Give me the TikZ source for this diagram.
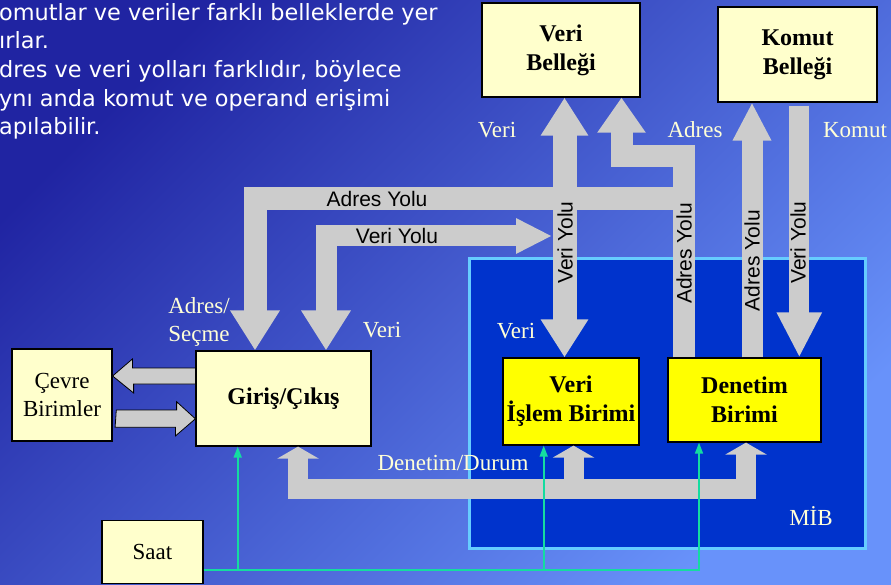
\documentclass[tikz,border=0pt]{standalone}
\usepackage{fontspec}
\setmainfont{Liberation Serif}
\setsansfont{Liberation Sans}
\newfontfamily\notefont{DejaVu Sans}
\usepackage{tikz}
\usetikzlibrary{arrows.meta}

\definecolor{bgdark}{RGB}{32,36,162}
\definecolor{bglight}{RGB}{104,146,250}
\definecolor{busgray}{RGB}{204,204,204}
\definecolor{memyellow}{RGB}{255,255,204}
\definecolor{cpuyellow}{RGB}{255,255,0}
\definecolor{cpublue}{RGB}{0,51,204}
\definecolor{cpuedge}{RGB}{102,204,255}
\definecolor{clkgreen}{RGB}{20,220,160}
\definecolor{labcream}{RGB}{255,255,215}

\begin{document}
\begin{tikzpicture}[x=1pt,y=-1pt,
  mem node/.style={rectangle,draw=black,fill=memyellow,line width=1.2pt,align=center,inner sep=0pt,
    font=\fontsize{24}{29}\selectfont\bfseries},
  dev node/.style={rectangle,draw=black,fill=memyellow,line width=1.2pt,align=center,inner sep=0pt,
    font=\fontsize{23}{28}\selectfont},
  cpu node/.style={rectangle,draw=black,fill=cpuyellow,line width=1.2pt,align=center,inner sep=0pt,
    font=\fontsize{24}{29}\selectfont\bfseries},
  bus/.style={draw=busgray,line cap=butt,line join=miter},
  side arrow/.style={fill=busgray,draw=black,line width=0.8pt,line join=miter},
  clkline/.style={draw=clkgreen,line width=1.6pt,-{Triangle[width=8pt,length=11pt]}},
  lab/.style={text=labcream,inner sep=0pt,align=center,font=\fontsize{23}{28}\selectfont},
  buslab/.style={text=black,inner sep=0pt,font=\sffamily\fontsize{21}{25}\selectfont}]

  \useasboundingbox (0,0) rectangle (891,585);
  \shade[top color=bgdark,bottom color=bglight,shading angle=45] (0,0) rectangle (891,585);

  % MIB
  \node[rectangle,draw=cpuedge,fill=cpublue,line width=3pt,minimum width=396,minimum height=290] (mib) at (667.5,403.5) {};

  % memories and units
  \node[mem node,minimum width=158,minimum height=94] (vb) at (561,50) {Veri\\Belleği};
  \node[mem node,minimum width=159,minimum height=95] (kb) at (797.5,54.5) {Komut\\Belleği};
  \node[mem node,minimum width=175,minimum height=95] (io) at (283.5,398.5) {Giriş/Çıkış};
  \node[dev node,minimum width=100,minimum height=92] (cb) at (62,395) {Çevre\\Birimler};
  \node[dev node,minimum width=101,minimum height=63] (saat) at (152.5,552) {Saat};
  \node[cpu node,minimum width=136,minimum height=87] (vib) at (571,401.5) {Veri\\İşlem Birimi};
  \node[cpu node,minimum width=153,minimum height=84] (db) at (744.5,400) {Denetim\\Birimi};

  % bus points
  \coordinate (vtop) at ([xshift=3.5]vb.south);
  \coordinate (atop) at ([xshift=-60.5]db.north);
  \coordinate (abend) at (621.5,156);
  \coordinate (abus) at (684,198.5);
  \coordinate (aio) at ([xshift=-28.5]io.north);
  \coordinate (kadr) at ([xshift=7.5]db.north);
  \coordinate (kcmd) at ([xshift=1.8]kb.south);
  \coordinate (vyol) at (552,236);
  \coordinate (vio) at ([xshift=42.5]io.north);
  \coordinate (dio) at ([xshift=14.5]io.south);
  \coordinate (dbus) at ([yshift=-42]io.south);
  \coordinate (dvib) at ([xshift=2.5]vib.south);
  \coordinate (ddb) at ([xshift=1.5]db.south);

  % buses
  \draw[bus,line width=23pt,-{Triangle[width=47pt,length=40pt]}] (abus) -| (aio);
  \draw[bus,line width=22pt,-{Triangle[width=46pt,length=35pt]}] (atop) |- (abend) -- (abend |- vb.south);
  \draw[bus,line width=24pt,{Triangle[width=45pt,length=38pt]}-{Triangle[width=45pt,length=38pt]}] (vtop) -- (vtop |- vib.north);
  \draw[bus,line width=21pt,{Triangle[width=47pt,length=40pt]}-{Triangle[width=33pt,length=36pt]}] (vio) |- (vyol);
  \draw[bus,line width=21pt,-{Triangle[width=36pt,length=38pt]}] (kadr) -- (kadr |- kb.south);
  \draw[bus,line width=20pt,shorten <=3pt,-{Triangle[width=42pt,length=45pt]}] (kcmd) -- (kcmd |- db.north);
  \draw[bus,line width=20pt,{Triangle[width=41pt,length=12pt]}-{Triangle[width=41pt,length=12pt]}] (dio) -- (dio |- dbus) -| (ddb);
  \draw[bus,line width=20pt,-{Triangle[width=41pt,length=12pt]}] (dvib |- dbus) -- (dvib);

  % peripherals
  \filldraw[side arrow] ([yshift=30.5]io.west) -- ++(-63,0) -- ++(0,-9) -- ([yshift=19]cb.east)
    -- ++(21,17) -- ++(0,-9) -- ([yshift=14.5]io.west) -- cycle;
  \filldraw[side arrow] ([xshift=3.7,yshift=-15]cb.east) -- ++(60.3,0) -- ++(0,-8.3) -- ([yshift=-20.3]io.west)
    -- ++(-20,17.2) -- ++(0,-8.7) -- ++(-60.3,0) -- cycle;

  % clock
  \coordinate (clk) at ([yshift=-18]saat.east);
  \coordinate (cio) at ([xshift=-45.8]io.south);
  \coordinate (cvib) at ([xshift=-27.3]vib.south);
  \coordinate (cdb) at ([xshift=-45.5]db.south);
  \draw[clkline] (clk) -| (cdb);
  \draw[clkline] (cio |- clk) -- (cio);
  \draw[clkline] (cvib |- clk) -- (cvib);

  % labels
  \node[buslab] (ladres) at (377,199) {Adres Yolu};
  \node[buslab] (lveri) at (397,236) {Veri Yolu};
  \node[buslab,rotate=90] (lv1) at (565,242.5) {Veri Yolu};
  \node[buslab,rotate=90] (la1) at (684,253.5) {Adres Yolu};
  \node[buslab,rotate=90] (la2) at (752,260.7) {Adres Yolu};
  \node[buslab,rotate=90] (lv2) at (798,242.5) {Veri Yolu};

  \node[lab] (tveri) at (497,130) {Veri};
  \node[lab] (tadres) at (695,130) {Adres};
  \node[lab] (tkomut) at (855,130) {Komut};
  \node[lab] (tsecme) at (199,322) {Adres/\\Seçme};
  \node[lab] (tiov) at (382,330) {Veri};
  \node[lab] (tcpuv) at (516,331) {Veri};
  \node[lab] (tdd) at (453,463) {Denetim/Durum};
  \node[lab] (tmib) at (811,516) {MİB};

  \node[text=white,inner sep=0pt,align=left,anchor=north west,font=\notefont\fontsize{22.4}{28.6}\selectfont] (note) at (-1,3)
    {omutlar ve veriler farklı belleklerde yer\\ırlar.\\dres ve veri yolları farklıdır, böylece\\ynı anda komut ve operand erişimi\\apılabilir.};
\end{tikzpicture}
\end{document}
